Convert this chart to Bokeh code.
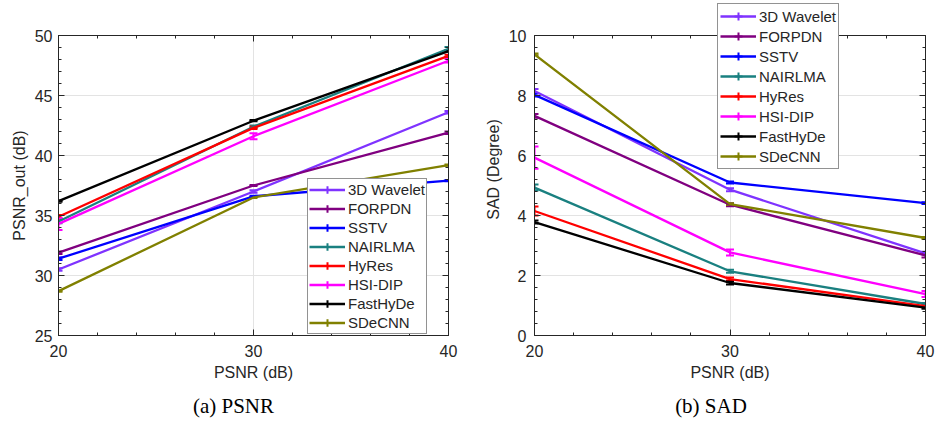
from bokeh.plotting import figure
from bokeh.models import (ColumnDataSource, Whisker, TeeHead, Legend, LegendItem, LinearAxis,
                          SingleIntervalTicker, Range1d, Div, CustomJSTickFormatter)
from bokeh.layouts import row, column
from bokeh.embed import file_html
from bokeh.resources import INLINE

# ---------------- data ----------------
noise_psnr = [20, 30, 40]
methods = ["3D Wavelet", "FORPDN", "SSTV", "NAIRLMA", "HyRes", "HSI-DIP", "FastHyDe", "SDeCNN"]
colors = ["#7f33ff", "#800080", "#0000ff", "#1a8080", "#ff0000", "#ff00ff", "#000000", "#808000"]

# (a) PSNR_out (dB)
psnr_3dwavelet = [30.5, 37.0, 43.6]
psnr_forpdn = [31.9, 37.5, 41.9]
psnr_sstv = [31.4, 36.6, 37.9]
psnr_nairlma = [34.5, 42.4, 48.9]
psnr_hyres = [34.9, 42.3, 48.3]
psnr_hsidip = [34.3, 41.6, 47.9]
psnr_fasthyde = [36.2, 42.9, 48.7]
psnr_sdecnn = [28.7, 36.5, 39.2]

psnr_err_3dwavelet = [0.10, 0.10, 0.10]
psnr_err_forpdn = [0.10, 0.05, 0.10]
psnr_err_sstv = [0.10, 0.05, 0.05]
psnr_err_nairlma = [0.15, 0.10, 0.15]
psnr_err_hyres = [0.15, 0.10, 0.10]
psnr_err_hsidip = [0.50, 0.25, 0.15]
psnr_err_fasthyde = [0.05, 0.05, 0.05]
psnr_err_sdecnn = [0.05, 0.05, 0.05]

# (b) SAD (Degree)
sad_3dwavelet = [8.15, 4.86, 2.74]
sad_forpdn = [7.32, 4.36, 2.67]
sad_sstv = [8.02, 5.10, 4.41]
sad_nairlma = [4.93, 2.14, 1.05]
sad_hyres = [4.15, 1.88, 0.98]
sad_hsidip = [5.93, 2.77, 1.38]
sad_fasthyde = [3.78, 1.75, 0.93]
sad_sdecnn = [9.37, 4.38, 3.25]

sad_err_3dwavelet = [0.07, 0.05, 0.05]
sad_err_forpdn = [0.06, 0.05, 0.07]
sad_err_sstv = [0.05, 0.03, 0.03]
sad_err_nairlma = [0.10, 0.05, 0.03]
sad_err_hyres = [0.15, 0.05, 0.03]
sad_err_hsidip = [0.37, 0.10, 0.10]
sad_err_fasthyde = [0.05, 0.05, 0.04]
sad_err_sdecnn = [0.03, 0.03, 0.03]

psnr_series = [psnr_3dwavelet, psnr_forpdn, psnr_sstv, psnr_nairlma,
               psnr_hyres, psnr_hsidip, psnr_fasthyde, psnr_sdecnn]
psnr_errs = [psnr_err_3dwavelet, psnr_err_forpdn, psnr_err_sstv, psnr_err_nairlma,
             psnr_err_hyres, psnr_err_hsidip, psnr_err_fasthyde, psnr_err_sdecnn]
sad_series = [sad_3dwavelet, sad_forpdn, sad_sstv, sad_nairlma,
              sad_hyres, sad_hsidip, sad_fasthyde, sad_sdecnn]
sad_errs = [sad_err_3dwavelet, sad_err_forpdn, sad_err_sstv, sad_err_nairlma,
            sad_err_hyres, sad_err_hsidip, sad_err_fasthyde, sad_err_sdecnn]

FONT = "Liberation Sans"
TXT = "#262626"
H = 395          # figure height (caption div below)
BOX_TOP = 35     # top of the axes box in the figure
BOX_BOTTOM = 60  # space below the axes box
BOX_PX = H - BOX_TOP - BOX_BOTTOM


def make_panel(width, left, right, frame_top, ylo, yhi, yinterval, ylabel,
               series, errs, legend_loc, row_h, pad, tick_standoff):
    # the frame may start above the axes box (frame_top < BOX_TOP) to host the legend
    upp = (yhi - ylo) / BOX_PX
    r1 = yhi + (BOX_TOP - frame_top) * upp
    p = figure(width=width, height=H, output_backend="svg", toolbar_location=None,
               x_range=Range1d(20, 40), y_range=Range1d(ylo, r1),
               min_border_left=left, min_border_right=right,
               min_border_top=frame_top, min_border_bottom=BOX_BOTTOM,
               x_axis_location=None, y_axis_location=None, frame_align=False)
    p.outline_line_color = None
    p.background_fill_color = "white"
    p.border_fill_color = "white"

    xt = SingleIntervalTicker(interval=10, num_minor_ticks=5)
    yt = SingleIntervalTicker(interval=yinterval, num_minor_ticks=5)
    empty = CustomJSTickFormatter(code="return ''")

    bottom_ax = LinearAxis(ticker=xt, axis_label="PSNR (dB)")
    left_ax = LinearAxis(ticker=yt, axis_label=ylabel, bounds=(ylo, yhi))
    top_ax = LinearAxis(ticker=xt, formatter=empty, bounds=(20, 40))
    if frame_top < BOX_TOP:
        top_ax.fixed_location = yhi
    right_ax = LinearAxis(ticker=yt, formatter=empty, bounds=(ylo, yhi))
    p.add_layout(bottom_ax, "below")
    p.add_layout(left_ax, "left")
    p.add_layout(top_ax, "above")
    p.add_layout(right_ax, "right")

    p.xgrid.ticker = xt
    p.ygrid.ticker = yt
    p.xgrid.bounds = (21, 39)
    p.ygrid.bounds = (ylo, yhi)
    p.grid.grid_line_color = "#e3e3e3"
    p.grid.grid_line_width = 1

    for ax in [bottom_ax, left_ax, top_ax, right_ax]:
        ax.axis_line_color = TXT
        ax.axis_line_width = 1
        ax.major_tick_line_color = TXT
        ax.minor_tick_line_color = TXT
        ax.major_tick_in = 6
        ax.major_tick_out = 0
        ax.minor_tick_in = 3
        ax.minor_tick_out = 0
        ax.major_label_text_color = TXT
        ax.axis_label_text_color = TXT
        ax.axis_label_text_font = FONT
        ax.major_label_text_font = FONT
        ax.axis_label_text_font_style = "normal"
        ax.axis_label_text_font_size = "16px"
        ax.major_label_text_font_size = "16px"
    for ax in [top_ax, right_ax]:
        ax.major_label_standoff = 0
        ax.major_label_text_font_size = "1px"
    bottom_ax.major_label_standoff = 9
    bottom_ax.axis_label_standoff = 4
    left_ax.major_label_standoff = tick_standoff
    left_ax.axis_label_standoff = 4

    items = []
    for name, col, ys, es in zip(methods, colors, series, errs):
        src = ColumnDataSource(dict(
            x=noise_psnr, y=ys,
            lo=[v - e for v, e in zip(ys, es)],
            hi=[v + e for v, e in zip(ys, es)]))
        lr = p.line("x", "y", source=src, line_color=col, line_width=2.3)
        cr = p.scatter("x", "y", source=src, marker="cross", size=0,
                       line_color=col, line_width=2)
        w = Whisker(source=src, base="x", upper="hi", lower="lo", dimension="height",
                    line_color=col, line_width=2,
                    upper_head=TeeHead(size=8, line_color=col, line_width=2),
                    lower_head=TeeHead(size=8, line_color=col, line_width=2))
        p.add_layout(w)
        items.append(LegendItem(label=name, renderers=[lr, cr]))

    leg = Legend(items=items, location=legend_loc)
    leg.label_text_font = FONT
    leg.label_text_font_size = "15px"
    leg.label_text_color = TXT
    leg.glyph_width = 36
    leg.glyph_height = row_h
    leg.label_height = row_h
    leg.label_standoff = 3
    leg.spacing = 0
    leg.padding = pad
    leg.margin = 0
    leg.border_line_color = TXT
    leg.border_line_width = 1
    leg.background_fill_alpha = 1
    leg.background_fill_color = "white"
    p.add_layout(leg, "center")
    return p


p1 = make_panel(467, 58, 19, BOX_TOP, 25, 50, 5, "PSNR_out (dB)",
                psnr_series, psnr_errs, (249, 1), 19, 1, 6)
p2 = make_panel(468, 67, 10, 3, 0, 10, 2, "SAD (Degree)",
                sad_series, sad_errs, (183, 166), 20, 2, 8)

cap_style = {"font-family": "Liberation Serif", "font-size": "21px", "line-height": "22px",
             "color": "black", "text-align": "center"}
c1 = Div(text="(a) PSNR", width=467, height=26, margin=0, styles=dict(cap_style))
c2 = Div(text="(b) SAD", width=468, height=26, margin=0,
         styles=dict(cap_style, **{"padding-left": "20px"}))

layout = column(row(p1, p2, spacing=0), row(c1, c2, spacing=0), spacing=0)
open("out.html", "w").write(file_html(layout, INLINE))
